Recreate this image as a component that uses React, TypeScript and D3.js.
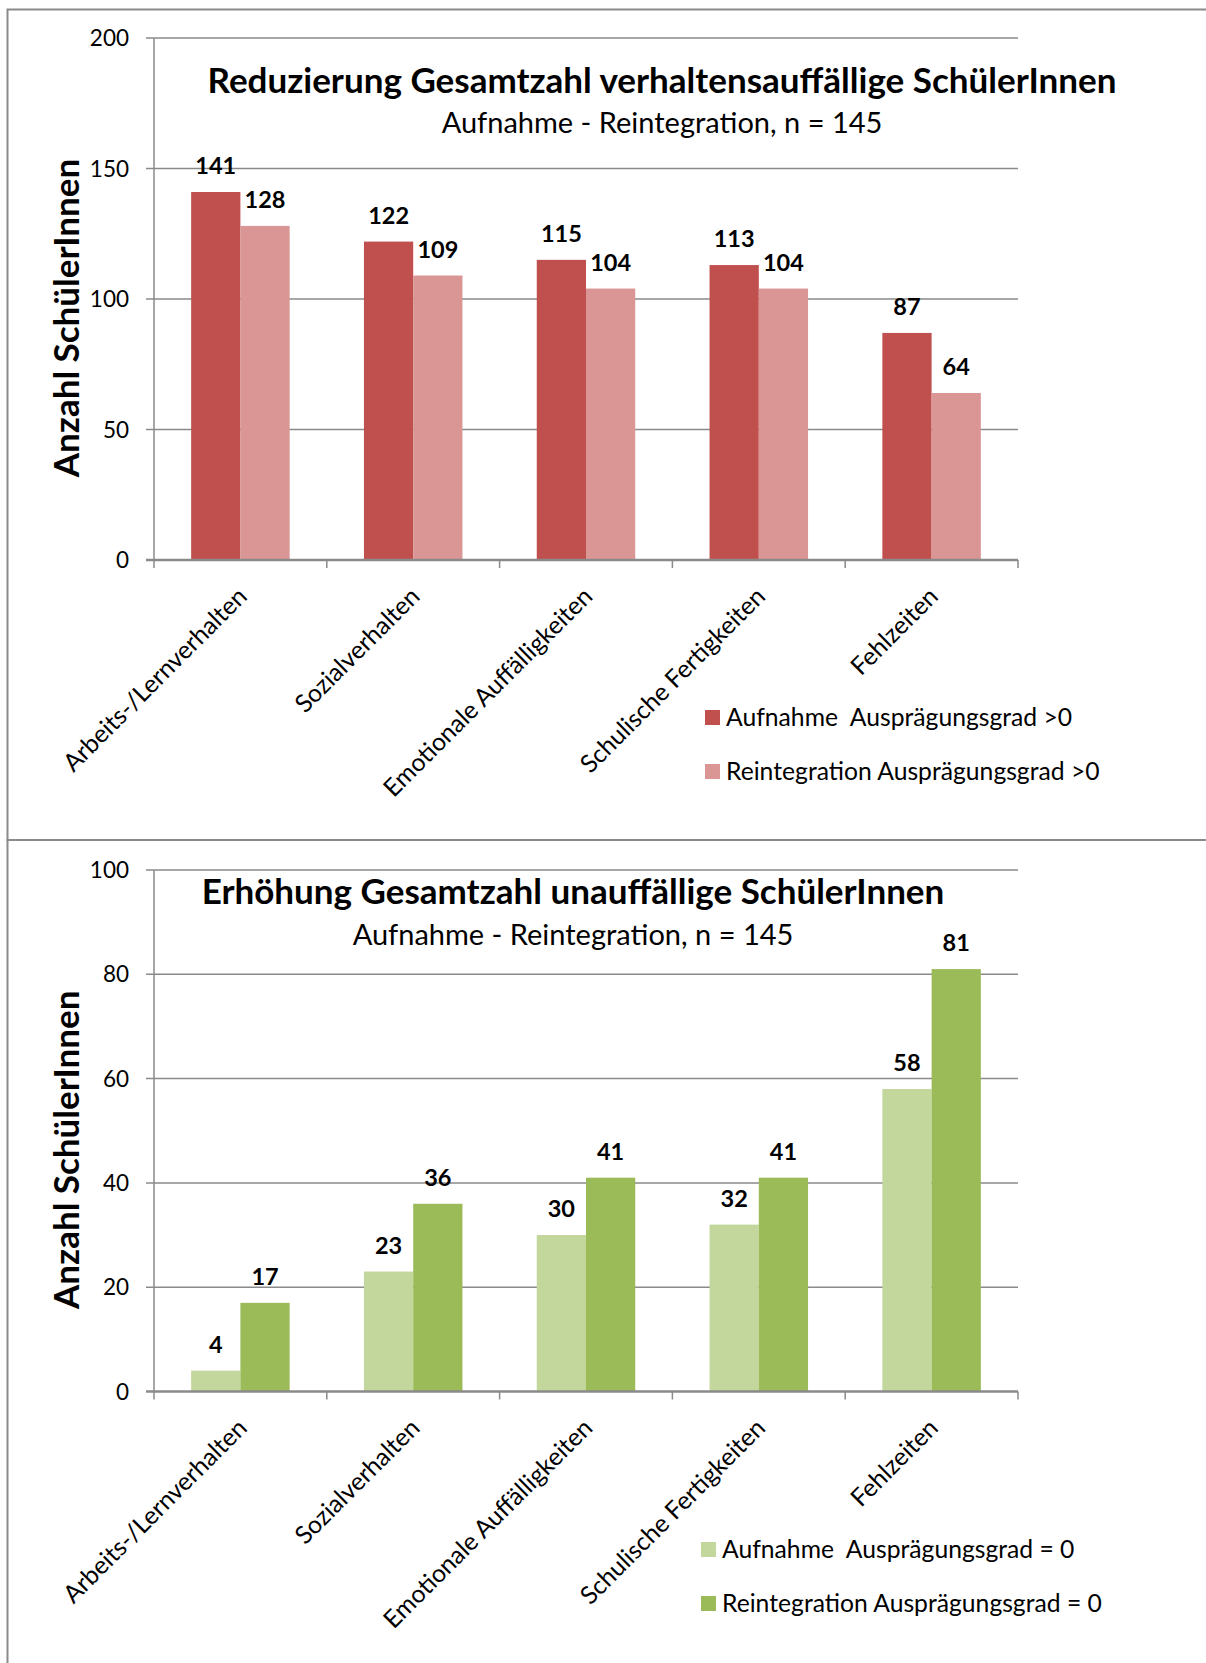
import * as d3 from "d3";
import React, { useEffect, useRef } from "react";

const categories = [
  "Arbeits-/Lernverhalten",
  "Sozialverhalten",
  "Emotionale Auffälligkeiten",
  "Schulische Fertigkeiten",
  "Fehlzeiten",
];

// oberes Diagramm: Ausprägungsgrad > 0
const aufnahmeAuffaellig = [141, 122, 115, 113, 87];
const reintegrationAuffaellig = [128, 109, 104, 104, 64];
const ticksAuffaellig = [0, 50, 100, 150, 200];

// unteres Diagramm: Ausprägungsgrad = 0
const aufnahmeUnauffaellig = [4, 23, 30, 32, 58];
const reintegrationUnauffaellig = [17, 36, 41, 41, 81];
const ticksUnauffaellig = [0, 20, 40, 60, 80, 100];

const seriesTop = [
  { name: "Aufnahme  Ausprägungsgrad >0", values: aufnahmeAuffaellig, color: "#C0504D" },
  { name: "Reintegration Ausprägungsgrad >0", values: reintegrationAuffaellig, color: "#D99694" },
];
const seriesBottom = [
  { name: "Aufnahme  Ausprägungsgrad = 0", values: aufnahmeUnauffaellig, color: "#C3D69B" },
  { name: "Reintegration Ausprägungsgrad = 0", values: reintegrationUnauffaellig, color: "#9BBB59" },
];

const FONT = "Lato, 'Open Sans', sans-serif";
const GRID = "#8a8a8a";

type Panel = {
  top: number;
  bottom: number;
  ticks: number[];
  series: { name: string; values: number[]; color: string }[];
  title: string;
  titleX: number;
  titleY: number;
  subY: number;
  legendX: number;
  legendY: number;
};

function drawPanel(svg: d3.Selection<SVGSVGElement, unknown, null, undefined>, p: Panel) {
  const left = 154,
    right = 1018;
  const g = svg.append("g");

  const y = d3
    .scaleLinear()
    .domain([0, d3.max(p.ticks) as number])
    .range([p.bottom, p.top]);
  const x0 = d3.scaleBand().domain(categories).range([left, right]).paddingInner(0.43).paddingOuter(0.215);
  const x1 = d3
    .scaleBand()
    .domain(p.series.map(s => s.name))
    .range([0, x0.bandwidth()]);

  // gridlines + y ticks
  g.selectAll("line.grid")
    .data(p.ticks.filter(t => t > 0))
    .join("line")
    .attr("x1", left - 8)
    .attr("x2", right)
    .attr("y1", d => y(d))
    .attr("y2", d => y(d))
    .attr("stroke", GRID)
    .attr("stroke-width", 1.5);

  g.selectAll("text.ytick")
    .data(p.ticks)
    .join("text")
    .attr("x", 129)
    .attr("y", d => y(d))
    .attr("dy", "0.36em")
    .attr("text-anchor", "end")
    .attr("font-family", FONT)
    .attr("font-size", 22.5)
    .attr("fill", "#000")
    .text(d => d);

  // bars
  categories.forEach((c, i) => {
    p.series.forEach(s => {
      g.append("rect")
        .attr("x", (x0(c) as number) + (x1(s.name) as number))
        .attr("y", y(s.values[i]))
        .attr("width", x1.bandwidth())
        .attr("height", y(0) - y(s.values[i]))
        .attr("fill", s.color);
      g.append("text")
        .attr("x", (x0(c) as number) + (x1(s.name) as number) + x1.bandwidth() / 2)
        .attr("y", y(s.values[i]) - 18)
        .attr("text-anchor", "middle")
        .attr("font-family", FONT)
        .attr("font-weight", "bold")
        .attr("font-size", 23.5)
        .text(s.values[i]);
    });
  });

  // axes
  g.append("line")
    .attr("x1", left)
    .attr("x2", left)
    .attr("y1", p.top)
    .attr("y2", p.bottom)
    .attr("stroke", GRID)
    .attr("stroke-width", 1.5);
  g.append("line")
    .attr("x1", left - 8)
    .attr("x2", right)
    .attr("y1", p.bottom)
    .attr("y2", p.bottom)
    .attr("stroke", GRID)
    .attr("stroke-width", 2.5);
  const step = x0.step();
  g.selectAll("line.xtick")
    .data(d3.range(categories.length + 1))
    .join("line")
    .attr("x1", d => left + d * step)
    .attr("x2", d => left + d * step)
    .attr("y1", p.bottom)
    .attr("y2", p.bottom + 8)
    .attr("stroke", GRID)
    .attr("stroke-width", 1.5);

  // rotated category labels
  g.selectAll("text.xlab")
    .data(categories)
    .join("text")
    .attr("transform", d => `translate(${(x0(d) as number) + x0.bandwidth() / 2 + 8},${p.bottom + 38}) rotate(-45)`)
    .attr("text-anchor", "end")
    .attr("font-family", FONT)
    .attr("font-size", 24.7)
    .text(d => d);

  // titles
  g.append("text")
    .attr("x", p.titleX)
    .attr("y", p.titleY)
    .attr("text-anchor", "middle")
    .attr("font-family", FONT)
    .attr("font-weight", "bold")
    .attr("font-size", 35)
    .text(p.title);
  g.append("text")
    .attr("x", p.titleX)
    .attr("y", p.subY)
    .attr("text-anchor", "middle")
    .attr("font-family", FONT)
    .attr("font-size", 29)
    .text("Aufnahme - Reintegration, n = 145");

  g.append("text")
    .attr("transform", `translate(79,${(p.top + p.bottom) / 2 + 19}) rotate(-90)`)
    .attr("text-anchor", "middle")
    .attr("font-family", FONT)
    .attr("font-weight", "bold")
    .attr("font-size", 35)
    .text("Anzahl SchülerInnen");

  // legend
  const leg = g
    .selectAll("g.leg")
    .data(p.series)
    .join("g")
    .attr("transform", (d, i) => `translate(${p.legendX},${p.legendY + i * 54})`);
  leg.append("rect").attr("width", 15).attr("height", 15).attr("fill", d => d.color);
  leg
    .append("text")
    .attr("x", 21)
    .attr("y", 15.5)
    .attr("font-family", FONT)
    .attr("font-size", 24.7)
    .style("white-space", "pre")
    .text(d => d.name);
}

export default function App() {
  const ref = useRef<SVGSVGElement>(null);

  useEffect(() => {
    const svg = d3.select(ref.current as SVGSVGElement);
    svg.selectAll("*").remove();

    // chart frames
    svg
      .append("rect")
      .attr("x", 7.5)
      .attr("y", 9.5)
      .attr("width", 1300)
      .attr("height", 830.5)
      .attr("fill", "#fff")
      .attr("stroke", GRID)
      .attr("stroke-width", 2);
    svg
      .append("rect")
      .attr("x", 7.5)
      .attr("y", 840)
      .attr("width", 1300)
      .attr("height", 900)
      .attr("fill", "#fff")
      .attr("stroke", GRID)
      .attr("stroke-width", 2);

    drawPanel(svg, {
      top: 38,
      bottom: 560,
      ticks: ticksAuffaellig,
      series: seriesTop,
      title: "Reduzierung Gesamtzahl verhaltensauffällige SchülerInnen",
      titleX: 662,
      titleY: 93,
      subY: 133,
      legendX: 705,
      legendY: 710,
    });
    drawPanel(svg, {
      top: 870,
      bottom: 1391.5,
      ticks: ticksUnauffaellig,
      series: seriesBottom,
      title: "Erhöhung Gesamtzahl unauffällige SchülerInnen",
      titleX: 573,
      titleY: 904,
      subY: 945,
      legendX: 701,
      legendY: 1542,
    });
  }, []);

  return (
    <svg
      ref={ref}
      width={1206}
      height={1663}
      style={{ position: "absolute", left: 0, top: 0, background: "#fff" }}
    />
  );
}
